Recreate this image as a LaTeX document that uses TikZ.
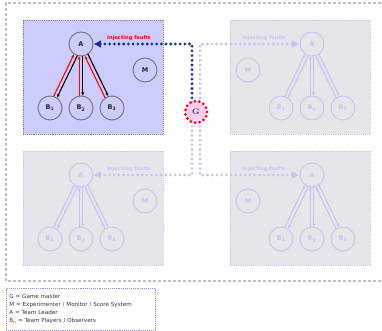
\documentclass[tikz,border=0pt]{standalone}
\usepackage{fontspec}
\setsansfont{DejaVu Sans}
\usetikzlibrary{calc, arrows.meta}

\definecolor{lavbg}{RGB}{204,204,255}
\definecolor{graybg}{RGB}{230,230,232}
\definecolor{lavline}{RGB}{196,196,250}
\definecolor{navyln}{RGB}{20,45,150}
\definecolor{pinkG}{RGB}{255,205,250}

\tikzset{
  hot/.code={\colorlet{qfill}{lavbg}\colorlet{qframe}{black!50}\colorlet{qcirc}{black!55}%
    \colorlet{qtext}{black!85}\colorlet{qup}{red}\colorlet{qdown}{black}\colorlet{qlabel}{red}},
  cold/.code={\colorlet{qfill}{graybg}\colorlet{qframe}{lavline}\colorlet{qcirc}{lavline}%
    \colorlet{qtext}{lavline}\colorlet{qup}{lavline}\colorlet{qdown}{lavline}\colorlet{qlabel}{lavline}},
  teambox/.style={draw=qframe, fill=qfill, densely dotted, line width=0.9pt,
    minimum width=140pt, minimum height=114pt, inner sep=0pt},
  member/.style={circle, draw=qcirc, fill=qfill, line width=0.9pt, minimum size=24pt, inner sep=0pt,
    font=\sffamily\bfseries\fontsize{6.5}{7}\selectfont, text=qtext},
  tie/.style={line width=1.1pt, -{Latex[length=3.5pt,width=3.2pt]}},
  faultlabel/.style={font=\sffamily\bfseries\fontsize{5.1}{5.5}\selectfont, text=qlabel, inner sep=0pt},
  link/.style={line width=3.1pt, dash pattern=on 0pt off 4.7pt, line cap=round,
    -{Latex[length=7.5pt,width=8pt]}},
  master/.style={circle, fill=pinkG, draw=red, line width=3pt, dash pattern=on 0pt off 4.6pt,
    line cap=round, minimum size=22pt, inner sep=0pt, font=\bfseries\fontsize{8}{8}\selectfont,
    text=black!75},
}

\begin{document}
\begin{tikzpicture}[x=1pt, y=-1pt]
  \useasboundingbox (0,0) rectangle (382,331);

  % 1. Outer frame (open to the right)
  \draw[gray!50, line width=1.6pt, densely dashed] (386,3) -- (6,3) -- (6,281) -- (386,281);

  % 2. The four teams: box, leader A, monitor M, players B1..B3
  \foreach \q/\cx/\cy/\s/\look in {tl/93/77/1/hot, tr/300/77/-1/cold, bl/93/208/1/cold, br/300/208/-1/cold}{
    \begin{scope}[\look]
      \node[teambox] (\q box) at (\cx,\cy) {};
      \node[member] (\q A) at ({\cx-12*\s},{\cy-33}) {A};
      \node[member] (\q M) at ($(\q A)+({64*\s},26)$) {M};
      \node[faultlabel] (\q F) at ($(\q A)+({48*\s},-6)$) {Injecting faults};
      \foreach \i in {1,2,3}{
        \node[member] (\q B\i) at ($(\q A)+({(\i-2)*31},64)$) {B\textsubscript{\i}};
        % up: B -> A, down: A -> B
        \draw[tie, qup] ($(\q B\i)!12pt!(\q A)!1.8pt!90:(\q A)$) -- ($(\q A)!12pt!(\q B\i)!1.8pt!-90:(\q B\i)$);
        \draw[tie, qdown] ($(\q A)!12pt!(\q B\i)!1.8pt!90:(\q B\i)$) -- ($(\q B\i)!12pt!(\q A)!1.8pt!-90:(\q A)$);
      }
    \end{scope}
  }

  % 3. Game master and fault links
  \coordinate (G) at (196,112);
  \draw[link, lavline] ([xshift=4pt]G) |- (trA);
  \draw[link, lavline] ([xshift=-4pt]G) |- (blA);
  \draw[link, lavline] ([xshift=4pt]G) |- (brA);
  \draw[link, navyln] ([xshift=-4pt]G) |- (tlA);
  \node[master] (gm) at (G) {G};

  % 4. Legend
  \node[draw=blue!45, densely dotted, line width=0.9pt, anchor=north west, minimum width=149pt,
    minimum height=42pt, text width=143pt, inner sep=3pt, align=left, text=black!80,
    font=\sffamily\fontsize{5.6}{8}\selectfont] (legend) at (6,288)
    {G = Game master\\
     M = Experimenter / Monitor / Score System\\
     A = Team Leader\\
     \textcolor{red!80!black}{B}\textsubscript{n} = Team Players / Observers};
\end{tikzpicture}
\end{document}
